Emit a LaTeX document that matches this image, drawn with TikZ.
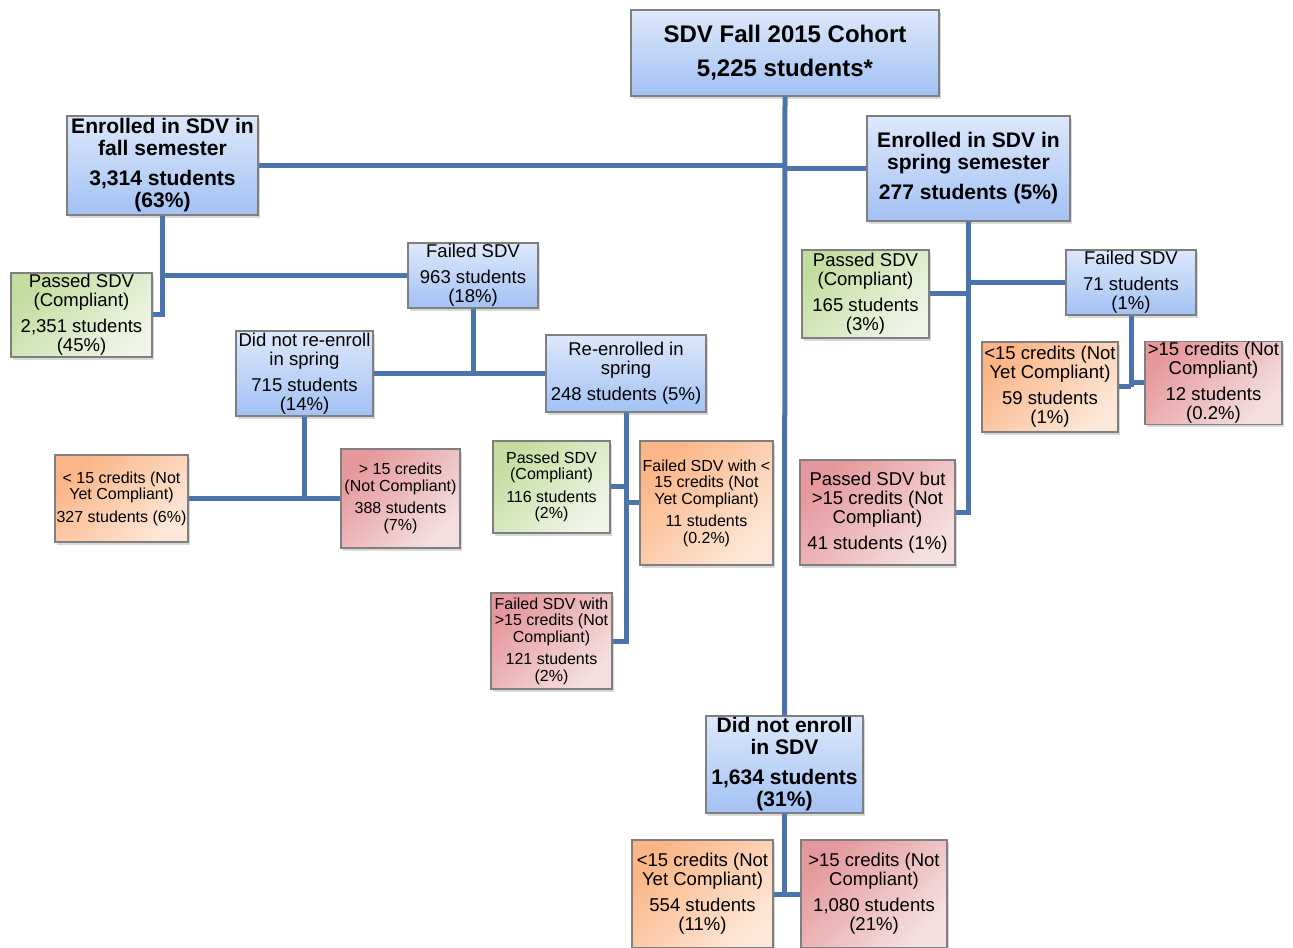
\documentclass[tikz,border=0pt]{standalone}
\usepackage{fontspec}
\setmainfont{Liberation Sans}
\usetikzlibrary{shadows}

\definecolor{linkblue}{HTML}{4A74AA}
\definecolor{boxedge}{HTML}{7F7F7F}
\definecolor{blueA}{HTML}{DDE8FB}
\definecolor{blueB}{HTML}{A3C1F4}
\definecolor{greenA}{HTML}{C3DD9F}
\definecolor{greenB}{HTML}{EFF5E7}
\definecolor{orangeA}{HTML}{FBB586}
\definecolor{orangeB}{HTML}{FDE7D8}
\definecolor{redA}{HTML}{E5989B}
\definecolor{redB}{HTML}{F5E0E0}

\begin{document}
\begin{tikzpicture}[x=0.75pt,y=-0.75pt,
  box/.style={draw=boxedge, line width=0.8pt, align=center, inner sep=1pt,
    drop shadow={opacity=0.3, shadow xshift=1.5pt, shadow yshift=-2pt}},
  size/.style 2 args={minimum width=#1*0.75pt, minimum height=#2*0.75pt},
  bluebox/.style={box, top color=blueA, bottom color=blueB},
  greenbox/.style={box, top color=greenA, bottom color=greenB, shading angle=45},
  orangebox/.style={box, top color=orangeA, bottom color=orangeB, shading angle=45},
  redbox/.style={box, top color=redA, bottom color=redB, shading angle=45},
  rootfont/.style={font=\bfseries\fontsize{18}{25.5}\selectfont},
  boldfont/.style={font=\bfseries\fontsize{15.8}{16.5}\selectfont},
  midfont/.style={font=\fontsize{13.9}{14.25}\selectfont},
  smallfont/.style={font=\fontsize{12}{12.4}\selectfont},
  link/.style={draw=linkblue, line width=3.75pt}]

  \useasboundingbox (0,0) rectangle (1293,948);

  % top level
  \node[bluebox, rootfont, size={308}{86}] (root) at (785,53)
    {SDV Fall 2015 Cohort\\5,225 students*};
  \node[bluebox, boldfont, size={191}{99}] (fall) at (162.5,165.5)
    {Enrolled in SDV in\\fall semester\\[6pt]3,314 students\\(63\%)};
  \node[bluebox, boldfont, size={203}{105}] (spring) at (968.5,168.5)
    {Enrolled in SDV in\\spring semester\\[6pt]277 students (5\%)};
  \node[bluebox, boldfont, size={157}{97}] (dne) at (784.5,764.5)
    {Did not enroll\\in SDV\\[6pt]1,634 students\\(31\%)};

  % fall branch
  \node[greenbox, midfont, size={141}{84}] (pass1) at (81.5,315)
    {Passed SDV\\(Compliant)\\[5pt]2,351 students\\(45\%)};
  \node[bluebox, midfont, size={130}{65}] (fail1) at (473,275.5)
    {Failed SDV\\[5pt]963 students\\(18\%)};
  \node[bluebox, midfont, size={137}{85}] (dnr) at (304.5,373.5)
    {Did not re-enroll\\in spring\\[5pt]715 students\\(14\%)};
  \node[bluebox, midfont, size={160}{77}] (reen) at (626,373.5)
    {Re-enrolled in\\spring\\[5pt]248 students (5\%)};
  \node[orangebox, smallfont, size={133}{87}] (lt1) at (121.5,498.5)
    {< 15 credits (Not\\Yet Compliant)\\[4.5pt]327 students (6\%)};
  \node[redbox, smallfont, size={119}{99}] (gt1) at (400.5,498.5)
    {> 15 credits\\(Not Compliant)\\[4.5pt]388 students\\(7\%)};
  \node[greenbox, smallfont, size={117}{92}] (pass2) at (551.5,487)
    {Passed SDV\\(Compliant)\\[4.5pt]116 students\\(2\%)};
  \node[orangebox, smallfont, size={133}{124}] (fless) at (706.5,503)
    {Failed SDV with <\\15 credits (Not\\Yet Compliant)\\[4.5pt]11 students\\(0.2\%)};
  \node[redbox, smallfont, size={121}{96}] (fmore) at (551.5,641)
    {Failed SDV with\\>15 credits (Not\\Compliant)\\[4.5pt]121 students\\(2\%)};

  % spring branch
  \node[greenbox, midfont, size={127}{88}] (pass3) at (865.5,294)
    {Passed SDV\\(Compliant)\\[5pt]165 students\\(3\%)};
  \node[bluebox, midfont, size={130}{65}] (fail3) at (1131,282.5)
    {Failed SDV\\[5pt]71 students\\(1\%)};
  \node[orangebox, midfont, size={136}{90}] (lt3) at (1050,387)
    {<15 credits (Not\\Yet Compliant)\\[5pt]59 students\\(1\%)};
  \node[redbox, midfont, size={137}{82}] (gt3) at (1213.5,383)
    {>15 credits (Not\\Compliant)\\[5pt]12 students\\(0.2\%)};
  \node[redbox, midfont, size={155}{105}] (pbut) at (877.5,512.5)
    {Passed SDV but\\>15 credits (Not\\Compliant)\\[5pt]41 students (1\%)};

  % no enrollment branch
  \node[orangebox, midfont, size={141}{108}] (lt4) at (702.5,894)
    {<15 credits (Not\\Yet Compliant)\\[5pt]554 students\\(11\%)};
  \node[redbox, midfont, size={146}{108}] (gt4) at (874,894)
    {>15 credits (Not\\Compliant)\\[5pt]1,080 students\\(21\%)};

  % connectors
  \draw[link] (root.south) -- (dne.north);
  \draw[link] (fall.east) -- (fall.east -| root.south);
  \draw[link] (spring.west) -- (spring.west -| root.south);

  \draw[link] (fall.south) |- (pass1.east);
  \draw[link] (fail1.west) -| (fall.south);
  \draw[link] (dnr.east) -- (reen.west);
  \draw[link] (fail1.south) -- (fail1.south |- dnr.east);
  \draw[link] (lt1.east) -- (gt1.west);
  \draw[link] (dnr.south) -- (dnr.south |- lt1.east);
  \draw[link] (reen.south) |- (fmore.east);
  \draw[link] (pass2.east) -- (pass2.east -| reen.south);
  \draw[link] (fless.west) -- (fless.west -| reen.south);

  \draw[link] (spring.south) |- (pbut.east);
  \draw[link] (pass3.east) -- (pass3.east -| spring.south);
  \draw[link] (fail3.west) -- (fail3.west -| spring.south);
  \draw[link] (fail3.south) -- (fail3.south |- lt3.east);
  \draw[link] (lt3.east) -- (lt3.east -| fail3.south);
  \draw[link] (gt3.west) -- (gt3.west -| fail3.south);

  \draw[link] (dne.south) -- (dne.south |- lt4.east);
  \draw[link] (lt4.east) -- (gt4.west);

\end{tikzpicture}
\end{document}
